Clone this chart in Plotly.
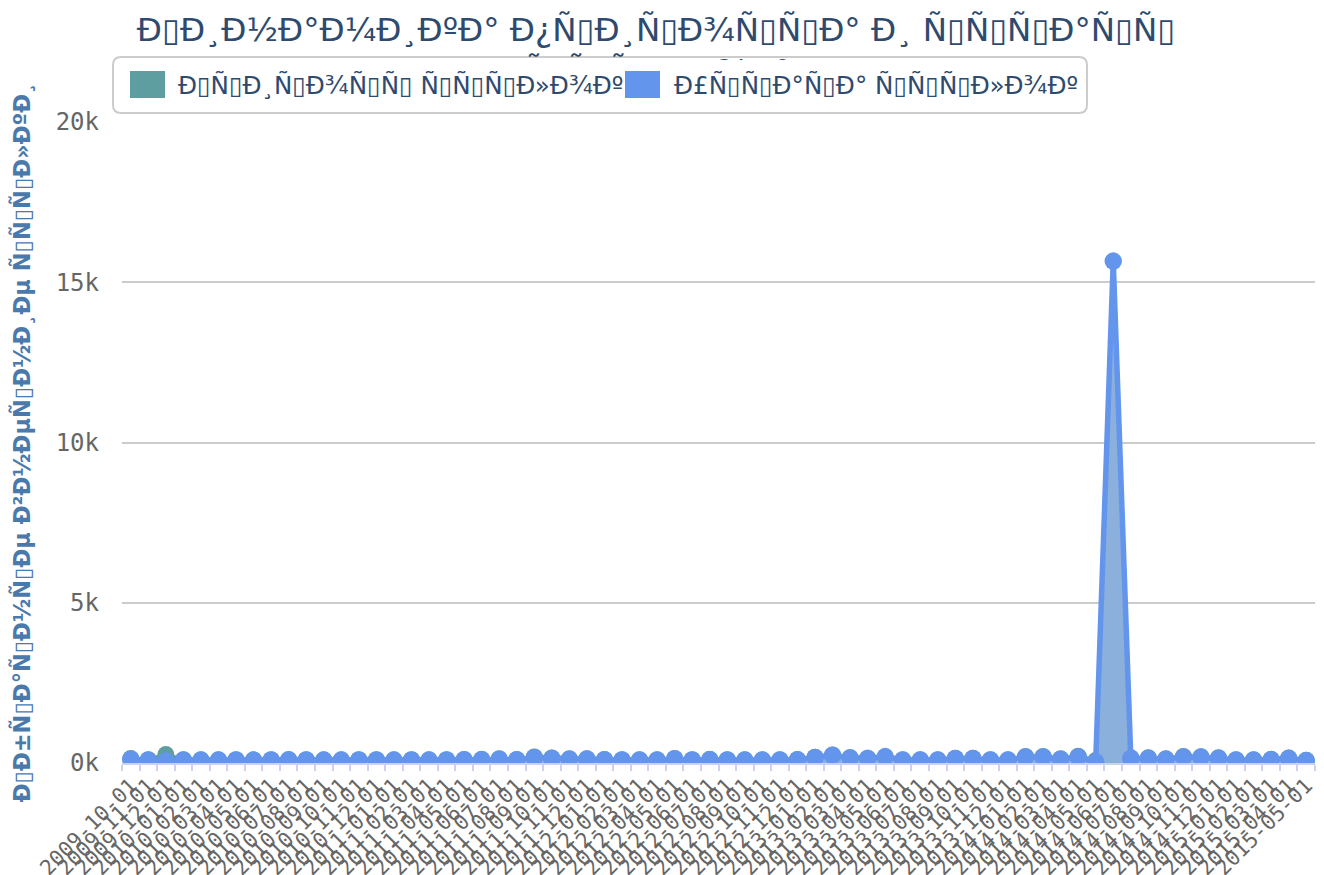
import plotly.graph_objects as go
import pandas as pd

BOX = "\u25af"

def moji(s):
    t = s.encode("utf-8").decode("latin-1")
    return "".join(BOX if 0x80 <= ord(c) <= 0x9F else c for c in t)

# ---------------- data ----------------
months = list(pd.date_range("2009-10-01", "2015-05-01", freq="MS").strftime("%Y-%m-%d"))

growth = [140, 105, 265, 105, 100, 100, 105, 100, 105, 110,
          105, 100, 100, 105, 105, 100, 105, 100, 105, 110,
          115, 130, 110, 185, 155, 130, 130, 110, 90, 100,
          100, 140, 105, 115, 105, 100, 100, 100, 110, 180,
          250, 165, 60, 50, 100, 100, 100, 150, 150, 100,
          100, 200, 200, 130, 210, 80, 110, 160, 160, 130,
          200, 195, 160, 100, 100, 115, 155, 85]

loss = [120, 90, 60, 90, 90, 90, 95, 90, 95, 95,
        95, 90, 90, 95, 95, 90, 95, 90, 95, 100,
        105, 120, 100, 175, 145, 120, 125, 100, 100, 95,
        95, 135, 95, 105, 95, 90, 95, 95, 105, 175,
        245, 160, 150, 200, 95, 95, 95, 140, 140, 95,
        95, 190, 190, 120, 190, 40, 15660, 150, 150, 120,
        190, 185, 150, 95, 95, 105, 145, 75]

ytick_vals = [0, 5000, 10000, 15000, 20000]
ytick_text = ["0k", "5k", "10k", "15k", "20k"]

title_line1 = "Динамика прироста и утраты"
title_line2 = "ссылок"
name_growth = "Прирост ссылок"
name_loss = "Утрата ссылок"
y_title = "Обратные внешние ссылки"

# ---------------- layout geometry ----------------
OFF = 8                      # page offset of the figure inside the window
W, H = 1324 - OFF, 875 - OFF
L, R, T, B = 114, 9, 114, 112
PW, PH = W - L - R, H - T - B

def px(x):                   # window pixel -> paper x
    return (x - OFF - L) / PW

def py(y):                   # window pixel -> paper y
    return (H - B - (y - OFF)) / PH

TEAL = "#5f9ea0"
BLUE = "#6495ed"
TXT = "#2e4a6e"

fig = go.Figure()
fig.add_trace(go.Scatter(
    x=months, y=growth, name=moji(name_growth), mode="lines+markers",
    line=dict(color=TEAL, width=4), marker=dict(color=TEAL, size=17),
    fill="tozeroy", fillcolor="rgba(95,158,160,0.55)", showlegend=False))
fig.add_trace(go.Scatter(
    x=months, y=loss, name=moji(name_loss), mode="lines+markers",
    line=dict(color=BLUE, width=5.5), marker=dict(color=BLUE, size=17.5),
    fill="tozeroy", fillcolor="#8cb0dc", showlegend=False))

# legend box (rounded border) + white cover + items
x0, x1, y0, y1, r = 113, 1087, 57, 113, 8
rx, ry = r / PW, r / PH
X0, X1, Y0, Y1 = px(x0), px(x1), py(y0), py(y1)
path = (f"M{X0+rx},{Y0} L{X1-rx},{Y0} Q{X1},{Y0} {X1},{Y0-ry} "
        f"L{X1},{Y1+ry} Q{X1},{Y1} {X1-rx},{Y1} L{X0+rx},{Y1} "
        f"Q{X0},{Y1} {X0},{Y1+ry} L{X0},{Y0-ry} Q{X0},{Y0} {X0+rx},{Y0} Z")
fig.add_shape(type="path", path=path, xref="paper", yref="paper",
              line=dict(color="#cccccc", width=2), fillcolor="white", layer="above")

ann = []
ann.append(dict(x=px(600), y=py(85), xref="paper", yref="paper", text=" ",
                showarrow=False, width=968, height=50, bgcolor="white",
                borderpad=0, borderwidth=0, xanchor="center", yanchor="middle"))
for cx, col in [(147.5, TEAL), (642.5, BLUE)]:
    ann.append(dict(x=px(cx), y=py(84.5), xref="paper", yref="paper", text=" ",
                    showarrow=False, width=35, height=27, bgcolor=col,
                    borderpad=0, borderwidth=0, xanchor="center", yanchor="middle",
                    font=dict(size=8)))
for tx, name in [(176, name_growth), (672, name_loss)]:
    ann.append(dict(x=px(tx), y=py(85), xref="paper", yref="paper", text=moji(name),
                    showarrow=False, xanchor="left", yanchor="middle",
                    font=dict(family="DejaVu Sans", size=24.6, color=TXT)))

fig.update_layout(
    width=W, height=H,
    margin=dict(l=L, r=R, t=T, b=B),
    paper_bgcolor="white", plot_bgcolor="white",
    showlegend=False,
    title=dict(text=moji(title_line1) + "<br>" + moji(title_line2),
               x=(656 - OFF) / W, xref="container", xanchor="center",
               y=1 - 33 / H, yref="container", yanchor="top",
               font=dict(family="DejaVu Sans", size=32.5, color=TXT)),
    annotations=ann,
    xaxis=dict(type="category", range=[-0.5, len(months) - 0.5],
               tickmode="linear", tick0=0, dtick=1,
               tickson="boundaries", ticks="outside", ticklen=6,
               tickcolor="#c8d4e8", tickwidth=1.5,
               showline=True, linecolor="#c8d4e8", linewidth=2,
               showgrid=False, tickangle=-45, automargin=False,
               tickfont=dict(family="DejaVu Sans Mono", size=21, color="#666666")),
    yaxis=dict(range=[0, 20000], tickvals=ytick_vals, ticktext=ytick_text,
               showgrid=True, gridcolor="#cccccc", gridwidth=1.5,
               zeroline=False, showline=False, ticks="", automargin=False,
               ticklabelstandoff=22,
               tickfont=dict(family="DejaVu Sans Mono", size=24, color="#666666"),
               title=dict(text=moji(y_title), standoff=20,
                          font=dict(family="DejaVu Sans", size=22.5,
                                    color="#4a7aab", weight="bold"))),
)

fig.write_html("out.html")
